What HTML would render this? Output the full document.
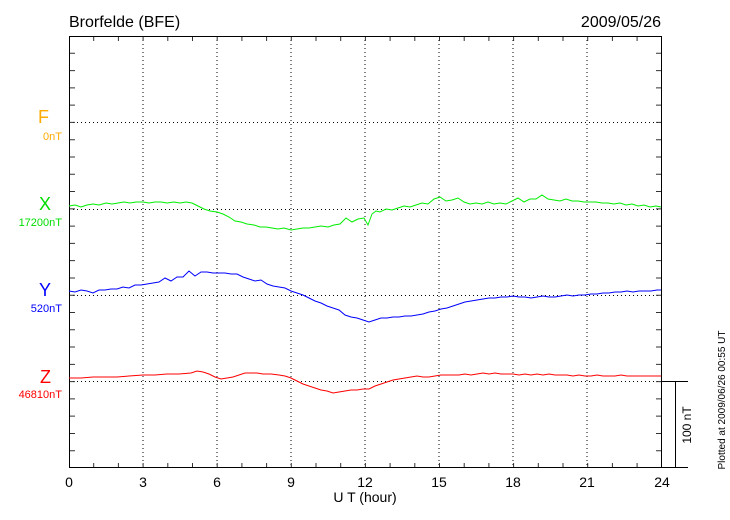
<!DOCTYPE html>
<html><head><meta charset="utf-8"><style>
html,body{margin:0;padding:0;background:#fff;}
svg{display:block;font-family:"Liberation Sans",sans-serif;}
</style></head><body>
<svg width="730" height="520" viewBox="0 0 730 520" xmlns="http://www.w3.org/2000/svg">
<rect width="730" height="520" fill="#fff"/>
<text x="69" y="27" font-size="16" fill="#000">Brorfelde (BFE)</text>
<text x="661" y="27" font-size="16" fill="#000" text-anchor="end">2009/05/26</text>
<g stroke="#000" stroke-width="1" stroke-dasharray="1,3" fill="none">
<line x1="143" y1="36" x2="143" y2="468"/><line x1="217" y1="36" x2="217" y2="468"/>
<line x1="291" y1="36" x2="291" y2="468"/><line x1="365" y1="36" x2="365" y2="468"/>
<line x1="439" y1="36" x2="439" y2="468"/><line x1="513" y1="36" x2="513" y2="468"/>
<line x1="587" y1="36" x2="587" y2="468"/>
<line x1="69" y1="122.5" x2="662" y2="122.5"/><line x1="69" y1="209.5" x2="662" y2="209.5"/>
<line x1="69" y1="295.5" x2="662" y2="295.5"/><line x1="69" y1="381.5" x2="662" y2="381.5"/>
</g>
<g stroke="#333" stroke-width="1" fill="none">
<path d="M93.7,37v4m24.7,-4v4m24.7,-4v4m24.7,-4v4m24.7,-4v4m24.7,-4v4m24.7,-4v4m24.7,-4v4m24.7,-4v4m24.7,-4v4m24.7,-4v4m24.7,-4v4m24.7,-4v4m24.7,-4v4m24.7,-4v4m24.7,-4v4m24.7,-4v4m24.7,-4v4m24.7,-4v4m24.7,-4v4m24.7,-4v4m24.7,-4v4m24.7,-4v4"/>
<path d="M93.7,467v-4m24.7,4v-4m24.7,4v-4m24.7,4v-4m24.7,4v-4m24.7,4v-4m24.7,4v-4m24.7,4v-4m24.7,4v-4m24.7,4v-4m24.7,4v-4m24.7,4v-4m24.7,4v-4m24.7,4v-4m24.7,4v-4m24.7,4v-4m24.7,4v-4m24.7,4v-4m24.7,4v-4m24.7,4v-4m24.7,4v-4m24.7,4v-4m24.7,4v-4"/>
<path d="M70,53.3h5m-5,17.28h5m-5,17.28h5m-5,17.28h5m-5,17.28h5m-5,17.28h5m-5,17.28h5m-5,17.28h5m-5,17.28h5m-5,17.28h5m-5,17.28h5m-5,17.28h5m-5,17.28h5m-5,17.28h5m-5,17.28h5m-5,17.28h5m-5,17.28h5m-5,17.28h5m-5,17.28h5m-5,17.28h5m-5,17.28h5m-5,17.28h5m-5,17.28h5m-5,17.28h5"/>
<path d="M661,53.3h-5m5,17.28h-5m5,17.28h-5m5,17.28h-5m5,17.28h-5m5,17.28h-5m5,17.28h-5m5,17.28h-5m5,17.28h-5m5,17.28h-5m5,17.28h-5m5,17.28h-5m5,17.28h-5m5,17.28h-5m5,17.28h-5m5,17.28h-5m5,17.28h-5m5,17.28h-5m5,17.28h-5m5,17.28h-5m5,17.28h-5m5,17.28h-5m5,17.28h-5m5,17.28h-5"/>
</g>
<rect x="69.5" y="36.5" width="592" height="431" fill="none" stroke="#000" stroke-width="1"/>
<line x1="662" y1="381.5" x2="688" y2="381.5" stroke="#000"/>
<line x1="675.5" y1="381" x2="675.5" y2="468" stroke="#000"/>
<line x1="662" y1="467.5" x2="688" y2="467.5" stroke="#000"/>
<text transform="translate(691,425) rotate(-90)" font-size="12" text-anchor="middle">100 nT</text>
<text transform="translate(725,400) rotate(-90)" font-size="10" text-anchor="middle">Plotted at 2009/06/26 00:55 UT</text>
<g font-size="14" text-anchor="middle">
<text x="69" y="487">0</text><text x="143" y="487">3</text><text x="217" y="487">6</text>
<text x="291" y="487">9</text><text x="365" y="487">12</text><text x="439" y="487">15</text>
<text x="513" y="487">18</text><text x="587" y="487">21</text><text x="662" y="487">24</text>
</g>
<text x="365" y="502" font-size="14" text-anchor="middle">U T (hour)</text>
<g text-anchor="end">
<text x="49" y="123" font-size="18" fill="#ffaa00">F</text>
<text x="62" y="140" font-size="11" fill="#ffaa00">0nT</text>
<text x="51" y="210" font-size="18" fill="#00dd00">X</text>
<text x="62" y="226" font-size="11" fill="#00dd00">17200nT</text>
<text x="51" y="296" font-size="18" fill="#0000ff">Y</text>
<text x="62" y="312" font-size="11" fill="#0000ff">520nT</text>
<text x="51" y="383" font-size="18" fill="#ff0000">Z</text>
<text x="62" y="398" font-size="11" fill="#ff0000">46810nT</text>
</g>
<polyline fill="none" stroke="#00ee00" stroke-width="1" points="69,206 75,205 81,207 87,205 93,204 99,205 106,203 112,204 118,203 124,202 130,203 136,202 143,202 149,203 155,202 161,202 167,203 174,202 180,203 186,202 192,203 198,206 204,209 210,211 217,212 223,214 229,217 235,221 241,222 247,224 254,225 260,227 266,227 272,228 278,229 284,228 291,230 297,229 303,228 309,228 315,227 321,226 328,227 334,225 340,224 346,218 352,222 358,219 364,218 368,225 372,214 376,211 380,212 386,209 392,210 398,208 404,206 410,207 416,205 422,203 428,204 434,199 440,197 446,201 452,200 458,198 464,202 470,204 476,203 482,204 488,202 494,204 500,203 506,204 512,201 518,198 524,202 530,199 536,199 542,195 548,199 554,200 560,201 566,199 572,201 578,201 584,202 590,202 596,202 602,203 608,203 614,204 620,203 626,205 632,204 638,206 644,205 650,207 656,206 661,207"/>
<polyline fill="none" stroke="#0000ff" stroke-width="1" points="69,291 75,292 81,290 87,291 93,293 99,290 105,290 111,289 117,289 123,287 129,288 135,285 141,285 147,284 153,283 159,282 165,278 171,281 177,277 183,277 189,271 195,276 201,272 207,272 213,273 219,273 225,273 231,274 237,274 243,277 249,279 255,281 261,280 267,284 273,286 279,287 285,288 291,291 297,293 303,295 309,298 315,301 321,303 327,306 333,308 339,310 345,315 351,317 357,318 363,320 369,322 375,320 381,318 387,318 393,317 399,317 405,316 411,316 417,315 423,314 429,312 435,311 441,309 447,308 453,306 459,304 465,302 471,301 477,300 483,299 489,298 495,298 501,297 507,297 513,296 519,297 525,297 531,298 537,297 543,296 549,297 555,297 561,296 567,295 573,296 579,295 585,295 591,294 597,294 603,293 609,293 615,292 621,292 627,291 633,292 639,291 645,291 651,291 657,290 661,290"/>
<polyline fill="none" stroke="#ff0000" stroke-width="1" points="69,378 81,378 93,377 105,377 117,377 129,376 143,375 155,375 167,374 179,374 191,373 197,371 203,372 209,374 215,377 221,379 227,378 233,377 239,375 245,373 251,373 257,373 263,374 271,374 279,375 285,376 291,378 297,381 303,384 309,386 315,388 321,390 327,391 333,393 339,392 345,391 351,390 357,390 363,389 369,389 375,386 381,384 387,382 393,380 399,379 405,378 411,377 417,376 423,377 429,377 435,376 441,375 447,375 453,375 459,375 465,374 471,375 477,374 483,373 489,374 495,373 501,374 507,374 513,374 519,375 525,374 531,375 537,374 543,375 549,374 555,375 561,375 567,375 573,376 579,375 585,376 591,376 597,375 603,376 609,376 615,376 621,375 627,376 633,376 639,376 645,376 651,376 656,376 661,376"/>
</svg>
</body></html>
